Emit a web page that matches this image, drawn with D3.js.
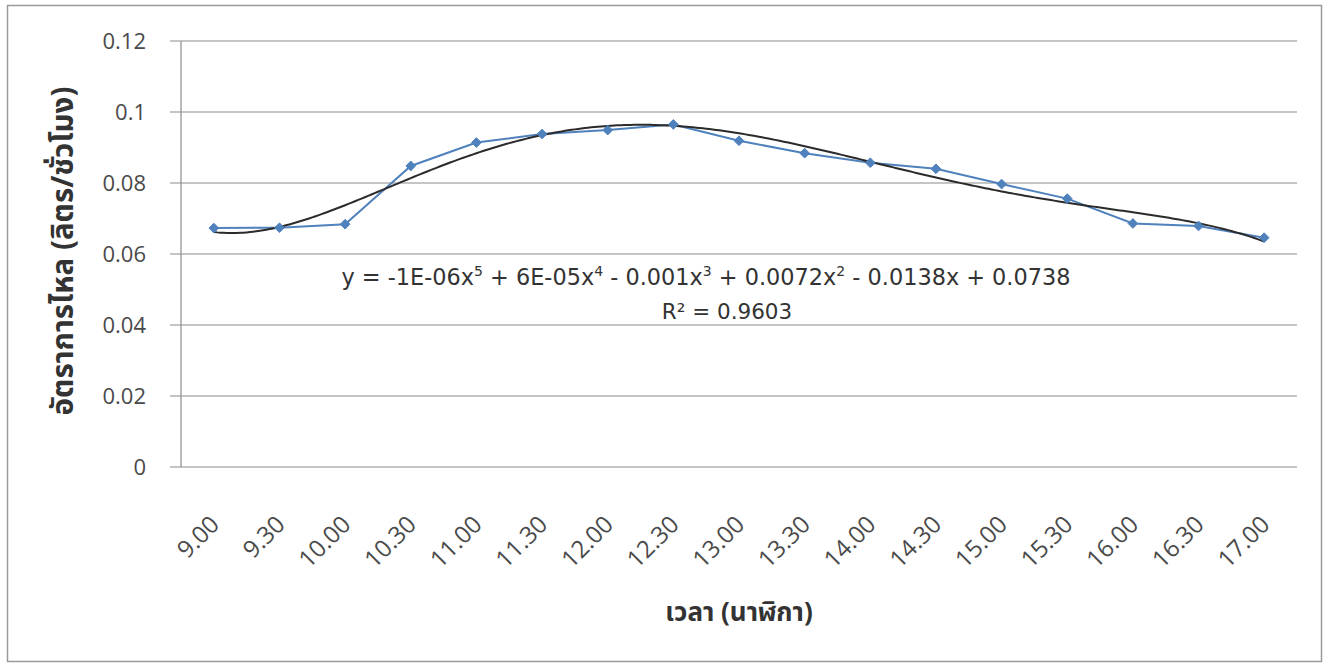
<!DOCTYPE html>
<html><head><meta charset="utf-8">
<script src="https://cdn.jsdelivr.net/npm/d3@7/dist/d3.min.js"></script>
<style>
body{margin:0;background:#fff;}
</style></head>
<body><svg id="chart" width="1328" height="666"></svg>
<script>
const categories = ["9.00","9.30","10.00","10.30","11.00","11.30","12.00","12.30","13.00","13.30","14.00","14.30","15.00","15.30","16.00","16.30","17.00"];
const flowRate = [0.0673,0.0674,0.0684,0.0848,0.0914,0.0938,0.0949,0.0965,0.0919,0.0884,0.0857,0.0840,0.0797,0.0756,0.0686,0.0679,0.0646];
const yTicks = [0,0.02,0.04,0.06,0.08,0.1,0.12];
const yTickLabels = ["0","0.02","0.04","0.06","0.08","0.1","0.12"];
const equationText = "y = -1E-06x<sup>5</sup> + 6E-05x<sup>4</sup> - 0.001x<sup>3</sup> + 0.0072x<sup>2</sup> - 0.0138x + 0.0738";
const rSquaredText = "R² = 0.9603";
const yTitle = "อัตราการไหล (ลิตร/ชั่วโมง)";
const xTitle = "เวลา (นาฬิกา)";

(function(){
const svg = d3.select("#chart");
const mLeft = 181, mRight = 1297, mTop = 41, mBottom = 467;
const tickFont = "'Open Sans',sans-serif";
const eqFont = "'DejaVu Sans',sans-serif";
const thaiFont = "'Noto Sans Thai','Noto Sans Thai Looped','Loma','Garuda','Tahoma',sans-serif";

svg.append("rect").attr("x",7.5).attr("y",5.5).attr("width",1314).attr("height",656)
  .attr("fill","#fff").attr("stroke","#9a9a9a").attr("stroke-width",1.5);

const x = d3.scaleBand().domain(categories).range([mLeft,mRight]);
const y = d3.scaleLinear().domain([0,0.12]).range([mBottom,mTop]);
const cx = d => x(d)+x.bandwidth()/2;

svg.append("g").selectAll("line").data(yTicks).join("line")
  .attr("x1",170).attr("x2",mRight).attr("y1",d=>y(d)).attr("y2",d=>y(d))
  .attr("stroke","#8c8c8c").attr("stroke-width",1.2);
svg.append("line").attr("x1",mLeft).attr("x2",mLeft).attr("y1",mTop).attr("y2",mBottom)
  .attr("stroke","#8c8c8c").attr("stroke-width",1.2);

svg.append("g").selectAll("text").data(yTicks).join("text")
  .attr("x",146).attr("y",d=>y(d)+8).attr("text-anchor","end")
  .attr("font-family",tickFont).attr("font-size",22).attr("fill","#4a4a4a")
  .text((d,i)=>yTickLabels[i]);

svg.append("g").selectAll("text").data(categories).join("text")
  .attr("transform",d=>`translate(${cx(d)+7},${526}) rotate(-45)`)
  .attr("text-anchor","end")
  .attr("font-family",tickFont).attr("font-size",24).attr("fill","#4a4a4a")
  .text(d=>d);

function polyfit(xs, ys, deg){
  const n = deg+1;
  const c = 9, s = 8;
  const ts = xs.map(v=>(v-c)/s);
  const A = Array.from({length:n},()=>new Array(n+1).fill(0));
  ts.forEach((t,k)=>{
    for(let i=0;i<n;i++){
      for(let j=0;j<n;j++) A[i][j]+=Math.pow(t,i+j);
      A[i][n]+=Math.pow(t,i)*ys[k];
    }
  });
  for(let i=0;i<n;i++){
    let p=i; for(let r=i+1;r<n;r++) if(Math.abs(A[r][i])>Math.abs(A[p][i])) p=r;
    [A[i],A[p]]=[A[p],A[i]];
    for(let r=0;r<n;r++){ if(r===i) continue; const f=A[r][i]/A[i][i]; for(let j=i;j<=n;j++) A[r][j]-=f*A[i][j]; }
  }
  const coef = A.map((row,i)=>row[n]/row[i]);
  return v=>{ const t=(v-c)/s; return coef.reduce((acc,a,i)=>acc+a*Math.pow(t,i),0); };
}
const idx = categories.map((d,i)=>i+1);
const fit = polyfit(idx, flowRate, 5);
const xi = d3.scaleLinear().domain([1,categories.length])
  .range([cx(categories[0]), cx(categories[categories.length-1])]);
const curvePts = d3.range(1, categories.length+0.0001, 0.05).map(v=>[xi(v), y(fit(v))]);

svg.append("path").datum(flowRate)
  .attr("d", d3.line().x((d,i)=>cx(categories[i])).y(d=>y(d)))
  .attr("fill","none").attr("stroke","#4f81bd").attr("stroke-width",2);
svg.append("path").datum(curvePts).attr("d", d3.line())
  .attr("fill","none").attr("stroke","#2b2b2b").attr("stroke-width",2);
svg.append("g").selectAll("path").data(flowRate).join("path")
  .attr("transform",(d,i)=>`translate(${cx(categories[i])},${y(d)})`)
  .attr("d", d3.symbol(d3.symbolDiamond2, 60))
  .attr("fill","#4f81bd").attr("stroke","#4f81bd").attr("stroke-width",1);

const eq = svg.append("text").attr("x",706).attr("y",285).attr("text-anchor","middle")
  .attr("font-family",eqFont).attr("font-size",22.4).attr("fill","#333");
let first = true;
equationText.split(/(<sup>\d<\/sup>)/).forEach(part=>{
  const m = part.match(/<sup>(\d)<\/sup>/);
  if(m) eq.append("tspan").attr("dy",-9).attr("font-size",14).text(m[1]);
  else if(part){ eq.append("tspan").attr("dy", first?0:9).text(part); }
  first = false;
});
svg.append("text").attr("x",727).attr("y",319).attr("text-anchor","middle")
  .attr("font-family",eqFont).attr("font-size",21.5).attr("fill","#333")
  .text(rSquaredText);

svg.append("text").attr("transform",`translate(73,${(mTop+mBottom)/2 - 3}) rotate(-90)`)
  .attr("text-anchor","middle").attr("font-family",thaiFont).attr("font-weight","bold")
  .attr("font-size",29.5).attr("fill","#333").text(yTitle);
svg.append("text").attr("x",739).attr("y",621).attr("text-anchor","middle")
  .attr("font-family",thaiFont).attr("font-weight","bold")
  .attr("font-size",26).attr("fill","#333").text(xTitle);
})();
</script></body></html>
